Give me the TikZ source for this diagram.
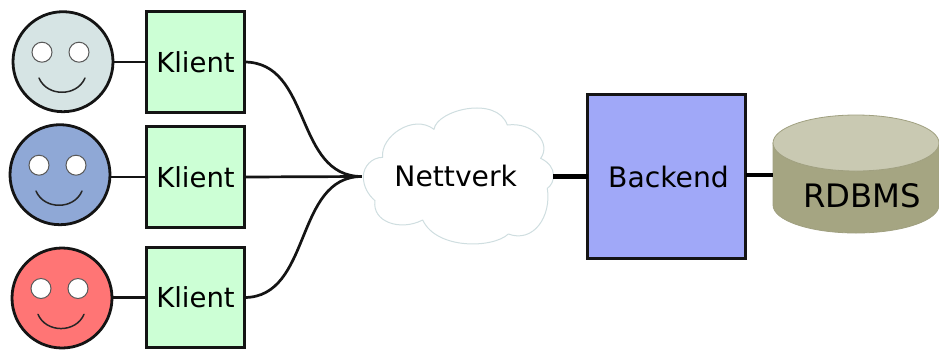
\documentclass[tikz,border=0pt]{standalone}
\usepackage{fontspec}
\setmainfont{DejaVu Sans}
\definecolor{klientfill}{HTML}{CCFFD5}
\definecolor{backfill}{HTML}{A0A8F8}
\definecolor{faceA}{HTML}{D6E4E4}
\definecolor{faceB}{HTML}{8FA8D6}
\definecolor{faceC}{HTML}{FF7575}
\definecolor{cloudline}{HTML}{CFDEE0}
\definecolor{cylside}{HTML}{A5A582}
\definecolor{cyltop}{HTML}{C9C9B2}
\definecolor{cylline}{HTML}{A0A080}
\tikzset{
  boxstyle/.style={draw=black!92,line width=2.6pt,rectangle,inner sep=0pt,outer sep=0pt},
  klientbox/.style={boxstyle,fill=klientfill,minimum width=97.5pt,minimum height=100.5pt,font=\fontsize{27.5}{30}\selectfont},
  backbox/.style={boxstyle,fill=backfill,minimum width=158pt,minimum height=163.5pt,font=\fontsize{28.2}{30}\selectfont},
  facestyle/.style={draw=black!92,line width=2.8pt,circle,inner sep=0pt,outer sep=0pt,minimum size=100pt},
  conn/.style={draw=black!92,line width=2.7pt},
  heavy/.style={draw=black,line width=4.8pt},
  eye/.style={draw=black!65,line width=1pt,fill=white},
  mouth/.style={draw=black!85,line width=1.5pt,line cap=round},
  cloudshape/.style={draw=cloudline,line width=1pt,fill=white,line join=round},
}
\begin{document}
\begin{tikzpicture}[x=1pt,y=-1pt]
\useasboundingbox (0,0) rectangle (939,349);
% nodes
\node[facestyle,fill=faceA] (f1) at (63,61.7) {};
\node[facestyle,fill=faceB] (f2) at (60,174.7) {};
\node[facestyle,fill=faceC] (f3) at (62,298) {};
\node[klientbox] (k1) at (195.5,62) {Klient};
\node[klientbox] (k2) at (195.5,177) {Klient};
\node[klientbox] (k3) at (195.5,297.5) {Klient};
\foreach \f in {f1,f2,f3}{
  \draw[eye] ([shift={(-21,-9.5)}]\f.center) circle (10);
  \draw[eye] ([shift={(16,-9.5)}]\f.center) circle (10);
  \draw[mouth] ([shift={(-24,16.3)}]\f.center) .. controls +(8,19) and +(-8,19) .. ([shift={(22,16.3)}]\f.center);
}
% cloud
\begin{scope}[shift={(240,80)},scale=1/3]
\draw[cloudshape] (370,290)
  .. controls (370,260) and (395,232) .. (428,232)
  .. controls (420,170) and (520,100) .. (582,148)
  .. controls (590,90) and (770,45) .. (802,135)
  .. controls (880,125) and (935,190) .. (902,235)
  .. controls (955,260) and (945,310) .. (922,325)
  .. controls (935,410) and (880,490) .. (805,462)
  .. controls (760,505) and (590,510) .. (548,420)
  .. controls (480,455) and (395,425) .. (405,362)
  .. controls (385,345) and (370,320) .. (370,290) -- cycle;
\end{scope}
\node[inner sep=0pt,minimum width=191pt,minimum height=20pt,font=\fontsize{28.2}{30}\selectfont] (net) at (457.5,176.5) {\raisebox{0.7pt}{Nettverk}\kern 3.5pt};
\node[backbox] (back) at (666.5,176.5) {\hspace{4pt}Backend};
% database
\draw[fill=cylside,draw=cylline,line width=.8pt] (773,143) -- (773,205) .. controls (773,220.5) and (810,233) .. (856,233) .. controls (902,233) and (939,220.5) .. (939,205) -- (939,143) -- cycle;
\draw[fill=cyltop,draw=cylline,line width=.8pt] (856,143) ellipse [x radius=83,y radius=28];
\node[inner sep=0pt,outer sep=0pt,minimum width=166pt,minimum height=40pt] (db) at (856,175) {};
\node[inner sep=0pt,font=\fontsize{32.3}{34}\selectfont] (rdbms) at (862,196) {RDBMS};
% connectors
\draw[conn] (f1.east |- k1.west) -- (k1.west);
\draw[conn] (f2.east |- k2.west) -- (k2.west);
\draw[conn] (f3.east |- k3.west) -- (k3.west);
\draw[conn] (k1.east) .. controls +(68,0) and +(-68,0) .. (net.west);
\draw[conn] (k2.east) -- (net.west);
\draw[conn] (k3.east) .. controls +(68,0) and +(-68,0) .. (net.west);
\draw[heavy] (net.east) -- (back.west);
\draw[heavy] (back.east |- db.west) -- (db.west);
\end{tikzpicture}
\end{document}
